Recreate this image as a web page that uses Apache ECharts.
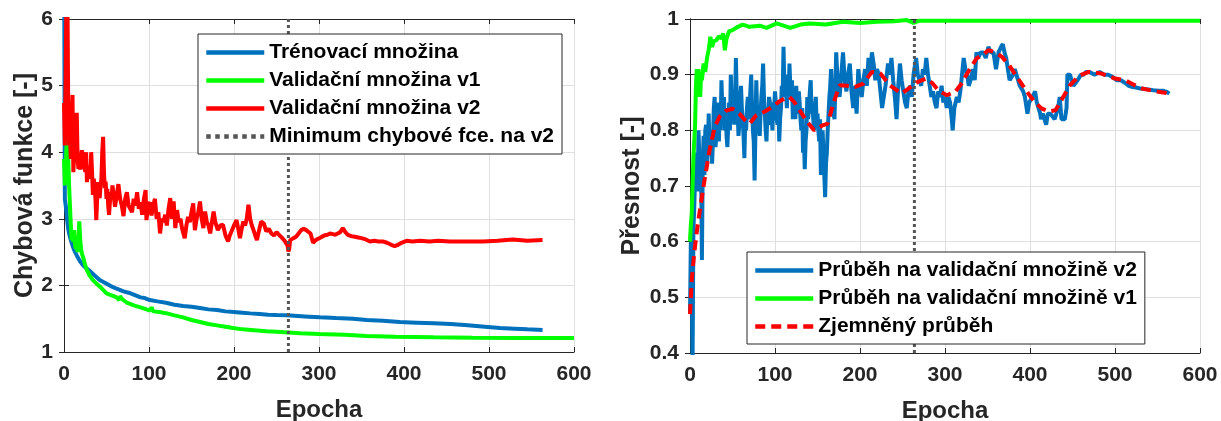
<!DOCTYPE html>
<html>
<head>
<meta charset="utf-8">
<script src="https://cdn.jsdelivr.net/npm/echarts@6/dist/echarts.min.js"></script>
<style>
  html, body { margin: 0; padding: 0; background: #fff; }
  #chart { width: 1221px; height: 421px; }
</style>
</head>
<body>
<div id="chart"></div>
<script>
// data: [epocha, hodnota]
const minEpoch = 264

// levý graf - chybová funkce
const lossTrain = [[0,7.5],[1,3.3],[2,3.2],[3,3.1],[4,2.95],[5,2.85],[6,2.78],[8,2.68],[10,2.6],[12,2.53],[15,2.45],[19,2.36],[22,2.31],[25,2.27],[31,2.21],[36,2.15],[42,2.08],[48,2.04],[55,1.99],[62,1.95],[70,1.91],[76,1.89],[82,1.86],[90,1.82],[95,1.81],[101,1.78],[110,1.76],[120,1.74],[130,1.71],[140,1.69],[150,1.68],[160,1.66],[170,1.64],[180,1.63],[190,1.61],[200,1.6],[210,1.59],[219,1.58],[230,1.57],[240,1.56],[250,1.555],[262,1.55],[275,1.54],[288,1.53],[301,1.52],[320,1.51],[340,1.5],[356,1.48],[375,1.47],[395,1.45],[415,1.44],[435,1.43],[455,1.42],[475,1.4],[495,1.38],[513,1.36],[530,1.35],[545,1.34],[563,1.33]]

const lossVal1 = [[0,3.9],[1,3.5],[2,3.8],[3,4.1],[4,4.18],[5,3.9],[6,3.5],[7,3.2],[8,2.9],[9,2.68],[10,2.75],[11,2.65],[12,2.83],[13,2.6],[14,2.55],[15,2.6],[16,2.5],[17,2.7],[18,2.96],[19,2.7],[20,2.55],[21,2.48],[23,2.4],[25,2.3],[27,2.23],[30,2.15],[34,2.08],[38,2.03],[44,1.96],[50,1.88],[56,1.85],[62,1.82],[65,1.78],[66,1.84],[68,1.8],[74,1.74],[82,1.7],[90,1.67],[97,1.64],[101,1.62],[103,1.67],[105,1.61],[112,1.6],[121,1.58],[130,1.55],[140,1.52],[150,1.48],[160,1.45],[170,1.42],[180,1.4],[190,1.38],[199,1.36],[210,1.34],[220,1.33],[238,1.31],[255,1.3],[278,1.28],[300,1.27],[330,1.26],[356,1.24],[390,1.23],[435,1.22],[480,1.215],[540,1.21],[600,1.21]]

const lossVal2 = [[0,4.74],[1,4.1],[2,5.2],[3,6.6],[4,6.4],[5,4.6],[6,4.1],[7,4.25],[8,3.9],[9,4.5],[10,4.86],[11,3.7],[12,3.95],[13,3.85],[14,4.2],[15,4.59],[16,3.9],[17,3.75],[18,3.85],[19,3.74],[20,3.9],[21,4.03],[22,3.8],[23,3.75],[24,3.85],[25,3.7],[26,4.0],[27,3.55],[28,3.7],[29,3.6],[30,3.8],[31,3.65],[32,4.0],[33,3.7],[34,3.36],[35,3.6],[36,3.5],[37,3.3],[38,2.98],[39,3.3],[40,3.55],[41,3.4],[42,3.31],[43,3.5],[44,3.6],[45,4.0],[46,4.23],[47,3.7],[48,3.46],[49,3.56],[50,3.3],[51,3.45],[52,3.2],[53,3.06],[54,3.25],[55,3.4],[56,3.3],[57,3.5],[58,3.4],[60,3.18],[62,3.35],[64,3.52],[66,3.3],[68,3.2],[70,3.04],[72,3.3],[74,3.4],[76,3.2],[78,3.23],[80,3.1],[82,3.3],[84,3.2],[86,3.4],[88,3.15],[90,3.25],[92,3.06],[94,3.3],[96,3.43],[97,2.98],[99,3.2],[101,3.25],[103,3.05],[105,3.2],[107,3.3],[109,3.0],[111,3.1],[113,2.78],[115,3.0],[117,2.95],[119,3.06],[121,2.9],[123,3.15],[125,3.31],[127,3.0],[129,3.26],[131,2.86],[133,3.13],[135,2.95],[137,3.0],[139,2.85],[142,2.71],[144,2.9],[146,3.03],[148,2.95],[150,3.1],[152,3.23],[154,2.83],[156,3.0],[158,3.1],[160,3.26],[162,3.0],[164,2.86],[166,3.11],[168,2.95],[170,2.9],[172,2.78],[174,2.95],[176,3.11],[178,2.95],[181,2.83],[184,2.9],[187,2.91],[190,2.75],[193,2.66],[195,2.75],[197,2.81],[200,2.9],[203,2.98],[205,2.85],[207,2.71],[209,2.85],[211,2.96],[213,2.9],[215,3.0],[217,3.21],[219,3.0],[221,2.9],[223,2.83],[225,2.75],[227,2.68],[229,2.8],[232,2.96],[235,2.93],[238,2.81],[241,2.85],[244,2.78],[247,2.75],[250,2.8],[253,2.76],[256,2.72],[259,2.68],[261,2.7],[263,2.6],[264,2.51],[265,2.55],[266,2.68],[268,2.7],[270,2.71],[273,2.73],[276,2.78],[279,2.83],[282,2.85],[285,2.83],[287,2.84],[290,2.78],[293,2.64],[296,2.68],[299,2.7],[302,2.72],[306,2.75],[310,2.76],[313,2.78],[316,2.77],[319,2.76],[322,2.78],[325,2.8],[328,2.86],[331,2.8],[334,2.76],[338,2.74],[342,2.73],[346,2.72],[350,2.71],[355,2.69],[360,2.66],[365,2.67],[370,2.66],[375,2.66],[380,2.64],[385,2.61],[389,2.59],[393,2.61],[397,2.64],[403,2.67],[410,2.66],[419,2.67],[430,2.66],[440,2.67],[454,2.66],[470,2.66],[493,2.66],[510,2.67],[528,2.69],[545,2.67],[563,2.68]]

// pravý graf - přesnost
const accVal2 = [[0,0.47],[1,0.6],[2,0.55],[3,0.38],[4,0.62],[5,0.66],[6,0.72],[7,0.7],[8,0.76],[9,0.69],[10,0.8],[11,0.75],[12,0.72],[13,0.75],[14,0.567],[15,0.74],[16,0.79],[17,0.72],[18,0.8],[19,0.81],[20,0.74],[21,0.76],[22,0.83],[23,0.76],[24,0.79],[25,0.8],[26,0.74],[27,0.78],[28,0.84],[29,0.86],[30,0.77],[31,0.79],[32,0.85],[33,0.82],[34,0.78],[35,0.84],[36,0.8],[37,0.89],[38,0.84],[39,0.82],[40,0.86],[41,0.8],[42,0.84],[43,0.79],[44,0.77],[45,0.81],[46,0.85],[47,0.8],[48,0.9],[49,0.85],[50,0.83],[51,0.87],[52,0.81],[53,0.85],[54,0.93],[55,0.86],[56,0.84],[57,0.79],[58,0.81],[59,0.85],[60,0.88],[61,0.84],[62,0.82],[63,0.79],[64,0.75],[65,0.82],[66,0.8],[67,0.84],[68,0.86],[69,0.82],[70,0.83],[71,0.87],[72,0.9],[73,0.84],[74,0.8],[75,0.78],[76,0.71],[77,0.8],[78,0.89],[79,0.83],[80,0.84],[81,0.81],[82,0.79],[83,0.83],[84,0.86],[85,0.88],[86,0.92],[87,0.86],[88,0.83],[89,0.8],[90,0.78],[91,0.83],[92,0.82],[93,0.86],[94,0.85],[95,0.81],[96,0.83],[97,0.8],[98,0.85],[99,0.84],[100,0.87],[101,0.85],[102,0.82],[103,0.81],[104,0.85],[105,0.78],[106,0.82],[107,0.84],[108,0.88],[109,0.86],[110,0.95],[111,0.88],[112,0.9],[113,0.87],[114,0.84],[115,0.89],[116,0.86],[117,0.92],[118,0.88],[119,0.86],[120,0.89],[121,0.82],[122,0.86],[123,0.85],[124,0.82],[125,0.88],[126,0.84],[127,0.83],[128,0.87],[129,0.85],[130,0.82],[131,0.8],[132,0.84],[133,0.76],[134,0.79],[135,0.73],[136,0.78],[137,0.8],[138,0.86],[139,0.82],[140,0.84],[141,0.87],[142,0.89],[143,0.83],[144,0.85],[145,0.82],[146,0.8],[147,0.84],[148,0.86],[149,0.81],[150,0.83],[151,0.8],[152,0.78],[153,0.82],[154,0.72],[155,0.77],[156,0.8],[157,0.76],[158,0.72],[159,0.68],[160,0.74],[161,0.76],[162,0.8],[163,0.83],[164,0.86],[165,0.88],[166,0.91],[167,0.87],[168,0.85],[169,0.83],[170,0.82],[172,0.94],[174,0.88],[176,0.86],[178,0.9],[180,0.94],[182,0.89],[184,0.87],[186,0.9],[188,0.92],[190,0.87],[192,0.84],[194,0.88],[196,0.83],[198,0.91],[200,0.88],[202,0.86],[204,0.89],[206,0.91],[208,0.88],[210,0.93],[212,0.9],[214,0.94],[216,0.92],[218,0.89],[220,0.91],[222,0.9],[224,0.87],[226,0.84],[228,0.84],[230,0.88],[233,0.92],[235,0.9],[237,0.93],[239,0.89],[241,0.86],[243,0.82],[245,0.88],[247,0.92],[249,0.89],[251,0.87],[253,0.85],[255,0.84],[257,0.87],[259,0.88],[261,0.86],[263,0.9],[266,0.93],[268,0.9],[270,0.89],[272,0.88],[274,0.91],[276,0.9],[278,0.93],[280,0.9],[282,0.88],[284,0.86],[286,0.87],[288,0.85],[290,0.84],[292,0.87],[294,0.86],[296,0.88],[298,0.85],[300,0.86],[302,0.84],[304,0.86],[306,0.85],[308,0.82],[309,0.8],[311,0.84],[314,0.86],[316,0.85],[318,0.87],[320,0.9],[322,0.93],[324,0.91],[326,0.9],[328,0.88],[330,0.89],[333,0.91],[335,0.89],[337,0.94],[339,0.93],[342,0.94],[345,0.94],[348,0.93],[351,0.95],[354,0.94],[357,0.94],[360,0.91],[363,0.94],[366,0.95],[368,0.955],[370,0.94],[372,0.93],[374,0.91],[376,0.89],[378,0.89],[380,0.9],[382,0.91],[384,0.9],[386,0.9],[388,0.88],[390,0.88],[392,0.87],[394,0.86],[396,0.84],[397,0.83],[399,0.85],[401,0.85],[403,0.86],[406,0.87],[408,0.85],[410,0.84],[412,0.83],[413,0.82],[415,0.83],[417,0.82],[419,0.81],[421,0.83],[424,0.83],[426,0.83],[429,0.82],[431,0.82],[433,0.84],[435,0.86],[437,0.82],[439,0.82],[441,0.82],[443,0.84],[444,0.9],[447,0.9],[449,0.89],[451,0.88],[453,0.88],[456,0.89],[460,0.9],[463,0.9],[466,0.905],[470,0.905],[476,0.9],[482,0.905],[487,0.9],[492,0.9],[497,0.896],[502,0.89],[507,0.89],[512,0.885],[516,0.88],[520,0.878],[525,0.877],[530,0.875],[537,0.874],[545,0.872],[551,0.871],[557,0.871],[561,0.869],[564,0.866]]

const accVal1 = [[0,0.6],[1,0.63],[2,0.65],[3,0.7],[4,0.75],[5,0.78],[6,0.81],[7,0.88],[8,0.91],[9,0.86],[10,0.91],[11,0.88],[12,0.86],[13,0.9],[14,0.89],[16,0.92],[18,0.905],[20,0.93],[22,0.945],[24,0.968],[26,0.95],[28,0.96],[31,0.962],[34,0.969],[37,0.965],[39,0.974],[41,0.944],[43,0.965],[46,0.978],[50,0.98],[55,0.985],[62,0.99],[70,0.986],[82,0.988],[90,0.984],[102,0.992],[110,0.988],[118,0.984],[130,0.99],[141,0.992],[160,0.99],[180,0.995],[200,0.993],[220,0.995],[240,0.996],[255,0.998],[263,0.993],[270,0.997],[290,0.997],[320,0.997],[350,0.997],[400,0.997],[450,0.997],[500,0.997],[550,0.997],[600,0.997]]

const accSmooth = [[0,0.47],[2,0.53],[5,0.58],[9,0.63],[13,0.67],[17,0.71],[23,0.764],[29,0.806],[35,0.825],[42,0.835],[50,0.839],[58,0.83],[65,0.818],[70,0.812],[78,0.827],[87,0.833],[97,0.842],[105,0.852],[112,0.858],[117,0.86],[123,0.85],[129,0.836],[138,0.815],[146,0.8],[156,0.809],[162,0.812],[168,0.845],[176,0.881],[185,0.88],[194,0.878],[204,0.884],[214,0.905],[224,0.902],[235,0.881],[249,0.866],[257,0.875],[268,0.887],[278,0.893],[285,0.885],[292,0.872],[302,0.863],[312,0.869],[320,0.885],[326,0.902],[337,0.929],[344,0.935],[351,0.944],[359,0.94],[367,0.932],[375,0.918],[382,0.902],[390,0.884],[398,0.866],[406,0.85],[414,0.839],[422,0.834],[430,0.836],[438,0.857],[447,0.881],[458,0.898],[469,0.905],[484,0.902],[500,0.893],[512,0.89],[522,0.882],[532,0.875],[548,0.87],[565,0.866]]

const font = "'Liberation Sans', Arial, sans-serif"
const axisColor = '#262626'

const xAxisBottom = (gridIndex) => ({
  type: 'value', gridIndex, min: 0, max: 600, interval: 100,
  name: 'Epocha', nameLocation: 'middle', nameGap: 46,
  nameTextStyle: {fontSize: 24, fontWeight: 'bold', color: axisColor, fontFamily: font},
  axisLine: {lineStyle: {color: axisColor, width: 1}},
  axisTick: {inside: true, length: 5, lineStyle: {color: axisColor}},
  axisLabel: {margin: 12, fontSize: 21, fontWeight: 'bold', color: axisColor, fontFamily: font},
  splitLine: {show: true, lineStyle: {color: '#dfdfdf', width: 1}}
})
const xAxisTop = (gridIndex) => ({
  type: 'value', gridIndex, position: 'top', min: 0, max: 600, interval: 100,
  axisLine: {lineStyle: {color: axisColor, width: 1}},
  axisTick: {inside: true, length: 5, lineStyle: {color: axisColor}},
  axisLabel: {show: false}, splitLine: {show: false}
})
const yAxisLeft = (gridIndex, min, max, interval, name, gap) => ({
  type: 'value', gridIndex, min, max, interval,
  name, nameLocation: 'middle', nameGap: gap,
  nameTextStyle: {fontSize: 25, fontWeight: 'bold', color: axisColor, fontFamily: font},
  axisLine: {show: true, lineStyle: {color: axisColor, width: 1}},
  axisTick: {show: true, inside: true, length: 5, lineStyle: {color: axisColor}},
  axisLabel: {margin: 11, fontSize: 21, fontWeight: 'bold', color: axisColor, fontFamily: font},
  splitLine: {show: true, lineStyle: {color: '#dfdfdf', width: 1}}
})
const yAxisRight = (gridIndex, min, max, interval) => ({
  type: 'value', gridIndex, position: 'right', min, max, interval,
  axisLine: {show: true, lineStyle: {color: axisColor, width: 1}},
  axisTick: {show: true, inside: true, length: 5, lineStyle: {color: axisColor}},
  axisLabel: {show: false}, splitLine: {show: false}
})

const line = (name, data, xi, yi, color, width, type) => ({
  name, type: 'line', data, xAxisIndex: xi, yAxisIndex: yi,
  showSymbol: false, symbol: 'none', animation: false,
  lineStyle: {color, width, type: type || 'solid', cap: 'butt'},
  itemStyle: {color}
})

// legenda - jen čára, bez symbolu
const legendStyle = {
  orient: 'vertical', itemWidth: 58, itemHeight: 14, itemGap: 7,
  padding: [8, 8, 7, 6], backgroundColor: '#fff',
  borderColor: axisColor, borderWidth: 1,
  itemStyle: {opacity: 0},
  lineStyle: {width: 4.5},
  textStyle: {fontSize: 21, fontWeight: 'bold', color: '#000', fontFamily: font}
}

const chart = echarts.init(document.getElementById('chart'), null, {renderer: 'canvas'})
chart.setOption({
  animation: false,
  backgroundColor: '#fff',
  grid: [
    {left: 64, top: 19, width: 510, height: 333, outerBoundsMode: 'none'},
    {left: 690, top: 19, width: 510, height: 334, outerBoundsMode: 'none'}
  ],
  xAxis: [xAxisBottom(0), xAxisTop(0), xAxisBottom(1), xAxisTop(1)],
  yAxis: [
    yAxisLeft(0, 1, 6, 1, 'Chybová funkce [-]', 24), yAxisRight(0, 1, 6, 1),
    yAxisLeft(1, 0.4, 1, 0.1, 'Přesnost [-]', 45), yAxisRight(1, 0.4, 1, 0.1)
  ],
  legend: [
    Object.assign({}, legendStyle, {
      left: 198, top: 34,
      data: ['Trénovací množina', 'Validační množina v1', 'Validační množina v2', 'Minimum chybové fce. na v2']
    }),
    Object.assign({}, legendStyle, {
      left: 747, top: 252,
      data: ['Průběh na validační množině v2', 'Průběh na validační množině v1', 'Zjemněný průběh']
    })
  ],
  series: [
    // levý
    line('Trénovací množina', lossTrain, 0, 0, '#0072BD', 4),
    line('Validační množina v1', lossVal1, 0, 0, '#00FF00', 4),
    line('Validační množina v2', lossVal2, 0, 0, '#FF0000', 4),
    line('Minimum chybové fce. na v2', [[minEpoch, 1], [minEpoch, 6]], 0, 0, '#555555', 3, 'dotted'),
    // pravý
    line('Průběh na validační množině v2', accVal2, 2, 2, '#0072BD', 4),
    line('Průběh na validační množině v1', accVal1, 2, 2, '#00FF00', 4),
    line('Zjemněný průběh', accSmooth, 2, 2, '#FF0000', 4, [10, 6]),
    line('minimum v2', [[minEpoch, 0.4], [minEpoch, 1]], 2, 2, '#555555', 3, 'dotted')
  ]
})
</script>
</body>
</html>
